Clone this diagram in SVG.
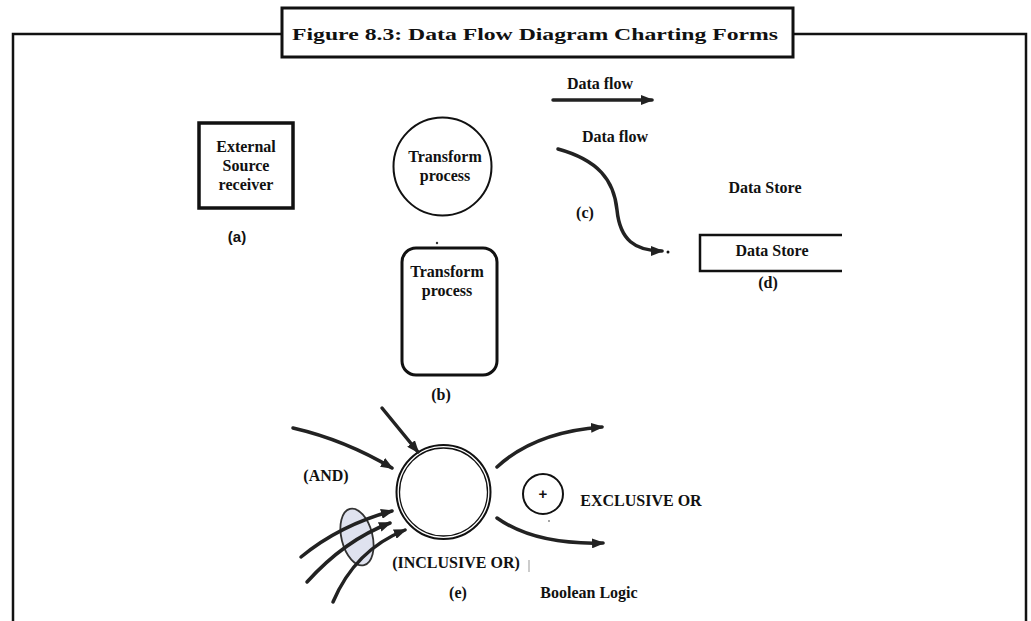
<svg xmlns="http://www.w3.org/2000/svg" width="1031" height="621" viewBox="0 0 1031 621">
<style>
.t{font-family:"Liberation Serif","Times New Roman",serif;font-weight:bold;font-size:16px;fill:#111;text-anchor:middle}
.s{font-family:"Liberation Sans",Arial,sans-serif;font-weight:bold;font-size:15px;fill:#111;text-anchor:middle}
.ln{fill:none;stroke:#111}
.ar{fill:none;stroke:#222;stroke-width:3.5;stroke-linecap:round;marker-end:url(#ah)}
</style>
<defs>
<marker id="ah" markerUnits="userSpaceOnUse" markerWidth="14" markerHeight="10" refX="11" refY="5" orient="auto">
<path d="M0,0 L13,5 L0,10 Z" fill="#222"/>
</marker>
</defs>
<rect width="1031" height="621" fill="#fff"/>
<g id="frame">
<path class="ln" stroke-width="2.5" d="M13,621 L13,34 L282,34 M793,34 L1026,34 L1026,621"/>
<rect x="282" y="8" width="511" height="49" fill="#fff" stroke="#111" stroke-width="3"/>
<text class="t" x="535" y="40" font-size="22" textLength="486" lengthAdjust="spacingAndGlyphs">Figure 8.3: Data Flow Diagram Charting Forms</text>
</g>
<g id="external">
<rect x="199" y="123" width="94" height="85" fill="#fff" stroke="#111" stroke-width="3.5"/>
<text class="t" x="246" y="152">External</text>
<text class="t" x="246" y="171">Source</text>
<text class="t" x="246" y="190">receiver</text>
<text class="s" x="237" y="242">(a)</text>
</g>
<g id="process-circle">
<circle cx="442.5" cy="166.5" r="49" fill="#fff" stroke="#111" stroke-width="2"/>
<text class="t" x="445" y="162">Transform</text>
<text class="t" x="445" y="181">process</text>
</g>
<g id="process-rect">
<circle cx="437" cy="243" r="1.2" fill="#333"/>
<rect x="402" y="248" width="95" height="127" rx="14" fill="#fff" stroke="#111" stroke-width="3"/>
<text class="t" x="447" y="277">Transform</text>
<text class="t" x="447" y="296">process</text>
<text class="t" x="441" y="400">(b)</text>
</g>
<g id="dataflow">
<text class="t" x="600" y="89">Data flow</text>
<text class="t" x="615" y="142">Data flow</text>
<text class="t" x="585" y="218">(c)</text>
<circle cx="668" cy="252" r="1.5" fill="#111"/>
</g>
<g id="datastore">
<text class="t" x="765" y="193">Data Store</text>
<path class="ln" stroke-width="2.5" d="M842,235 L700,235 L700,271 L842,271"/>
<text class="t" x="772" y="256">Data Store</text>
<text class="t" x="768" y="288">(d)</text>
</g>
<g id="boolean">
<ellipse cx="357" cy="537" rx="15.5" ry="29" transform="rotate(-14 357 537)" fill="#dfe2ef" stroke="#333" stroke-width="1.8"/>
<circle cx="443.5" cy="492" r="47" fill="#fff" stroke="#111" stroke-width="2"/>
<circle cx="443.5" cy="492" r="44" fill="none" stroke="#111" stroke-width="1.3"/>
<circle cx="543" cy="494" r="20" fill="#fff" stroke="#111" stroke-width="2"/>
<text class="s" x="543" y="499" font-size="14" font-weight="normal">+</text>
<text class="t" x="326" y="481">(AND)</text>
<text class="t" x="641" y="506">EXCLUSIVE OR</text>
<text class="t" x="456" y="568">(INCLUSIVE OR)</text>
<line x1="529" y1="560" x2="529" y2="572" stroke="#999" stroke-width="1"/>
<circle cx="549" cy="521" r="1" fill="#888"/>
<text class="t" x="458" y="598">(e)</text>
<text class="t" x="589" y="598">Boolean Logic</text>
</g>
<g id="connectors">
<path class="ar" d="M553,100 L652,100"/>
<path class="ar" d="M558,149 C598,160 614,180 617,210 C620,240 635,251 662,251"/>
<path class="ar" d="M293,428 Q345,440 392,468"/>
<path class="ar" d="M382,408 L418,452"/>
<path class="ar" d="M301,557 Q340,525 392,511"/>
<path class="ar" d="M307,582 Q345,540 390,523"/>
<path class="ar" d="M333,602 Q355,550 405,530"/>
<path class="ar" d="M497,467 Q535,432 602,427"/>
<path class="ar" d="M497,518 Q535,545 603,543"/>
</g>
</svg>
